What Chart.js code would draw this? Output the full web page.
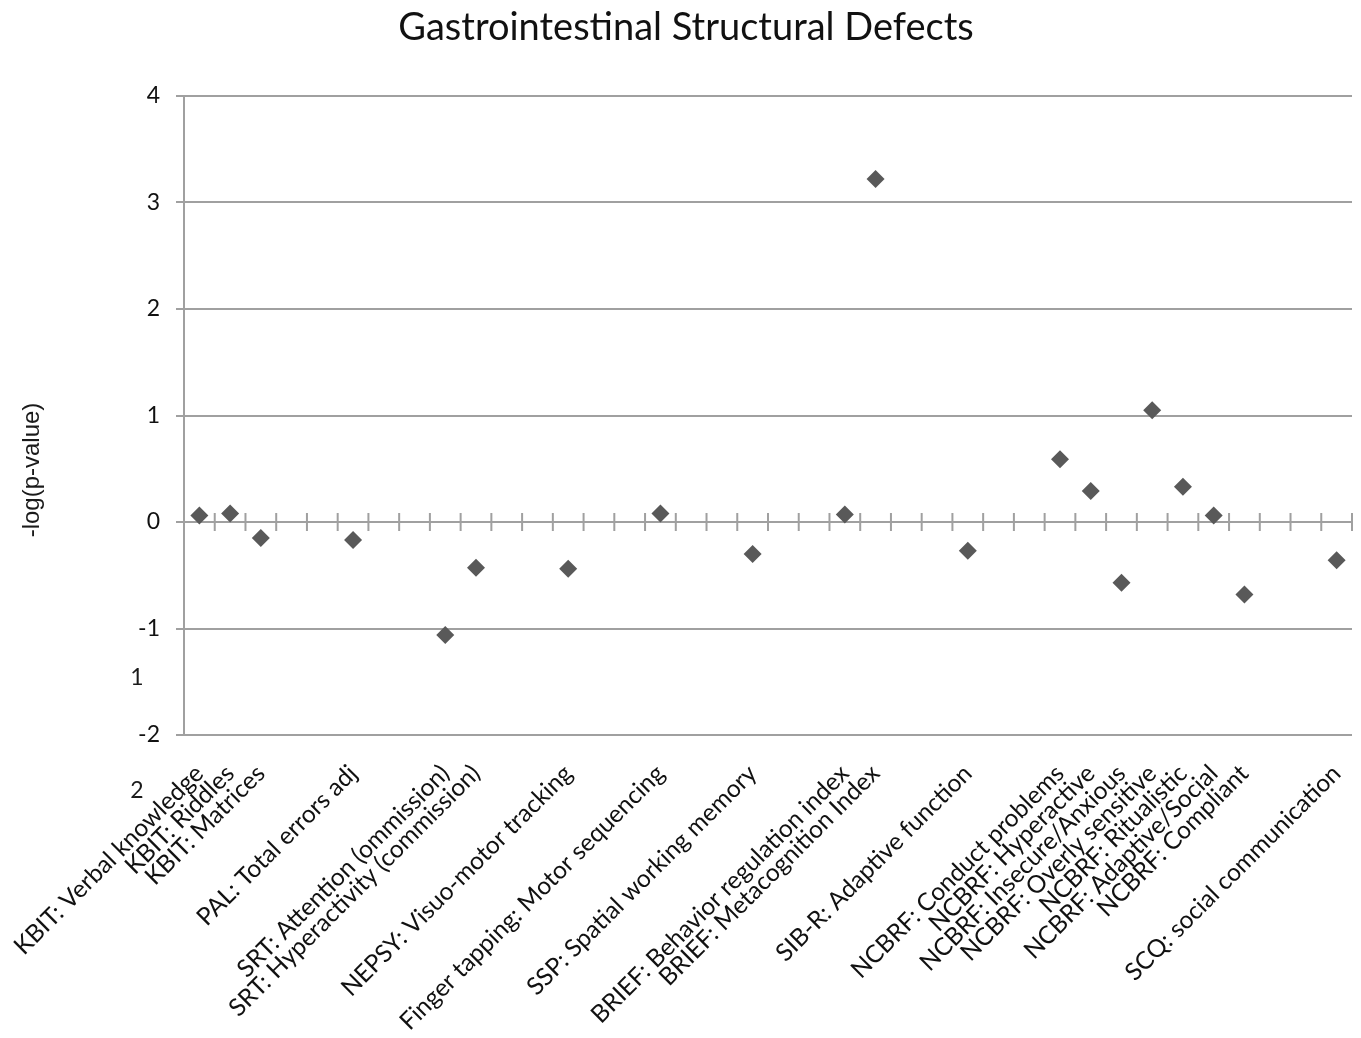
<!DOCTYPE html>
<html>
<head>
<meta charset="utf-8">
<script src="https://cdn.jsdelivr.net/npm/chart.js@4.4.0/dist/chart.umd.min.js"></script>
<style>
  html, body { margin: 0; padding: 0; background: #ffffff; }
  #wrap { width: 1361px; height: 1038px; position: relative; }
</style>
</head>
<body>
<div id="wrap"><canvas id="c" width="1361" height="1038"></canvas></div>
<script>
const chartTitle = 'Gastrointestinal Structural Defects';
const yAxisTitle = '-log(p-value)';

const categories = [
  'KBIT: Verbal knowledge', 'KBIT: Riddles', 'KBIT: Matrices', '', '',
  'PAL: Total errors adj', '', '',
  'SRT: Attention (ommission)', 'SRT: Hyperactivity (commission)', '', '',
  'NEPSY: Visuo-motor tracking', '', '',
  'Finger tapping: Motor sequencing', '', '',
  'SSP: Spatial working memory', '', '',
  'BRIEF: Behavior regulation index', 'BRIEF: Metacognition Index', '', '',
  'SIB-R: Adaptive function', '', '',
  'NCBRF: Conduct problems', 'NCBRF: Hyperactive', 'NCBRF: Insecure/Anxious',
  'NCBRF: Overly sensitive', 'NCBRF: Ritualistic', 'NCBRF: Adaptive/Social',
  'NCBRF: Compliant', '', '',
  'SCQ: social communication'
];

const logPValues = [
  0.06, 0.08, -0.15, null, null,
  -0.17, null, null,
  -1.06, -0.43, null, null,
  -0.44, null, null,
  0.08, null, null,
  -0.30, null, null,
  0.07, 3.22, null, null,
  -0.27, null, null,
  0.59, 0.29, -0.57,
  1.05, 0.33, 0.06,
  -0.68, null, null,
  -0.36
];

const yTicks = [-2, -1, 0, 1, 2, 3, 4];
const strayLabels = [
  { text: '1', value: -1.46 },
  { text: '2', value: -2.52 }
];

const FONT = 'Lato, "Open Sans", sans-serif';

const zeroAxisPlugin = {
  id: 'zeroAxis',
  beforeDatasetsDraw(chart) {
    const x = chart.scales.x, y = chart.scales.y;
    const ctx = chart.ctx;
    const y0 = y.getPixelForValue(0);
    const n = categories.length;
    ctx.save();
    ctx.strokeStyle = '#a0a0a0';
    ctx.lineWidth = 2;
    ctx.beginPath();
    for (let i = 0; i <= n; i++) {
      const px = x.left + i * (x.right - x.left) / n;
      ctx.moveTo(px, y0 - 9);
      ctx.lineTo(px, y0 + 9);
    }
    ctx.stroke();
    ctx.restore();
  },
  afterDraw(chart) {
    const y = chart.scales.y;
    const ctx = chart.ctx;
    ctx.save();
    ctx.fillStyle = '#1a1a1a';
    ctx.font = '24px "Liberation Sans", Arial, sans-serif';
    ctx.textAlign = 'center';
    ctx.textBaseline = 'middle';
    ctx.translate(32, 470);
    ctx.rotate(-Math.PI / 2);
    ctx.fillText(yAxisTitle, 0, 0);
    ctx.restore();
    ctx.save();
    ctx.fillStyle = '#1a1a1a';
    ctx.font = '23px ' + FONT;
    ctx.textAlign = 'center';
    ctx.textBaseline = 'middle';
    strayLabels.forEach(s => ctx.fillText(s.text, 137, y.getPixelForValue(s.value)));
    ctx.restore();
  }
};

new Chart(document.getElementById('c'), {
  type: 'line',
  data: {
    labels: categories,
    datasets: [{
      data: logPValues,
      showLine: false,
      pointStyle: 'rectRot',
      pointRadius: 9,
      pointHoverRadius: 9,
      pointBackgroundColor: '#595959',
      pointBorderColor: '#595959',
      pointBorderWidth: 0
    }]
  },
  options: {
    responsive: false,
    animation: false,
    events: [],
    layout: { padding: { left: 11, right: 0, top: 0, bottom: 0 } },
    plugins: {
      legend: { display: false },
      tooltip: { enabled: false },
      title: {
        display: true,
        text: chartTitle,
        color: '#111111',
        font: { family: FONT, size: 38, weight: 'normal' },
        padding: { top: 5, bottom: 45.4 }
      }
    },
    scales: {
      x: {
        type: 'category',
        offset: true,
        grid: { display: false, drawTicks: false },
        border: { display: false },
        ticks: {
          autoSkip: false,
          minRotation: 45,
          maxRotation: 45,
          padding: 24,
          color: '#111111',
          font: { family: FONT, size: 24.5 }
        },
        afterFit(scale) {
          scale.height = 303;
          scale.paddingLeft = 0;
          scale.paddingRight = 9;
        }
      },
      y: {
        min: -2,
        max: 4,
        afterBuildTicks(scale) { scale.ticks = yTicks.map(v => ({ value: v })); },
        grid: { color: '#a0a0a0', lineWidth: 2, tickLength: 8 },
        border: { display: true, color: '#a0a0a0', width: 2 },
        ticks: {
          padding: 16,
          color: '#111111',
          font: { family: FONT, size: 23 }
        },
        afterFit(scale) { scale.width = 173; }
      }
    }
  },
  plugins: [zeroAxisPlugin]
});
</script>
</body>
</html>
